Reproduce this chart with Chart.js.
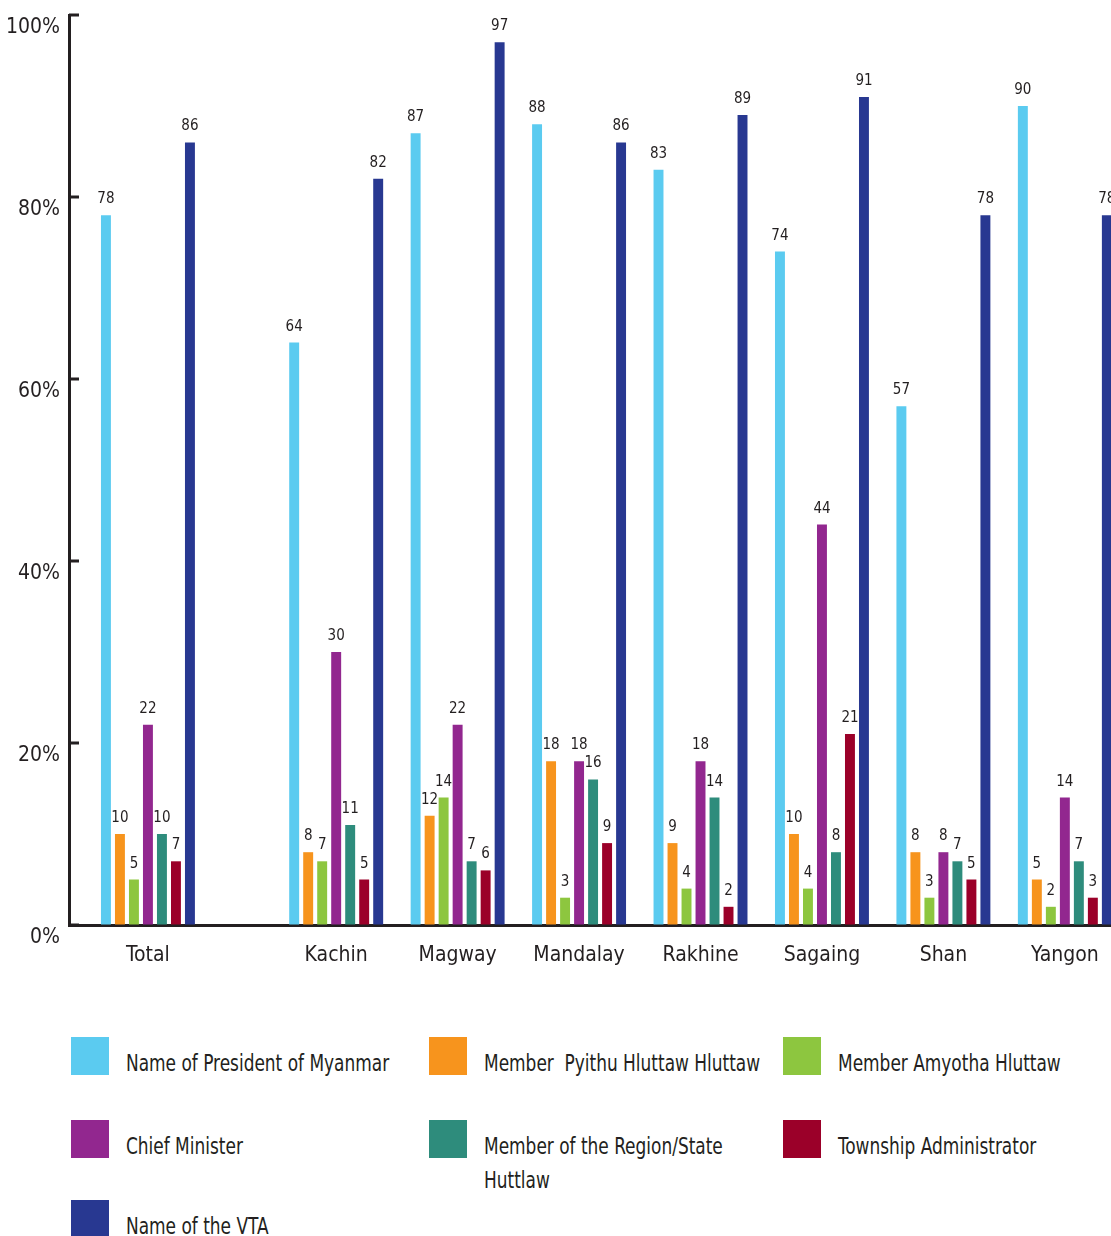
<!DOCTYPE html>
<html>
<head>
<meta charset="utf-8">
<script src="https://cdn.jsdelivr.net/npm/chart.js@4"></script>
<style>
  body { margin: 0; background: #fff; font-family: "DejaVu Sans Condensed", sans-serif; color: #231f20; }
  #wrap { position: absolute; left: 0; top: 0; width: 1111px; height: 985px; overflow: hidden; }
  #legend { position: absolute; left: 71px; top: 1037px; display: grid;
            grid-template-columns: 358px 354px 300px; grid-template-rows: 83px 80px 40px; }
  .item { display: flex; align-items: flex-start; }
  .box { width: 38px; height: 38px; flex: none; }
  .lbl { margin-left: 17px; margin-top: 9px; font-size: 23px; line-height: 34px; white-space: pre;
         transform: scaleX(0.82); transform-origin: 0 0; }
</style>
</head>
<body>
<div id="wrap"><canvas id="chart"></canvas></div>
<div id="legend"></div>
<script>
// regions (Total first, then a wider gap before the states/regions)
const regions = ['Total', 'Kachin', 'Magway', 'Mandalay', 'Rakhine', 'Sagaing', 'Shan', 'Yangon'];

const seriesNames = [
    'Name of President of Myanmar',
    'Member  Pyithu Hluttaw Hluttaw',
    'Member Amyotha Hluttaw',
    'Chief Minister',
    'Member of the Region/State\nHuttlaw',
    'Township Administrator',
    'Name of the VTA'
];

const president   = [78, 64, 87, 88, 83, 74, 57, 90];
const pyithu      = [10, 8, 12, 18, 9, 10, 8, 5];
const amyotha     = [5, 7, 14, 3, 4, 4, 3, 2];
const chiefMin    = [22, 30, 22, 18, 18, 44, 8, 14];
const regionState = [10, 11, 7, 16, 14, 8, 7, 7];
const township    = [7, 5, 6, 9, 2, 21, 5, 3];
const vta         = [86, 82, 97, 86, 89, 91, 78, 78];

const yTicks = [0, 20, 40, 60, 80, 100];

const colors = ['#5BCBF0', '#F7941D', '#8DC63F', '#92278F', '#2E8C7C', '#9B0029', '#283891'];
const ink = '#231f20';
const font = '"DejaVu Sans Condensed", sans-serif';

// layout: Total sits a bit apart from the rest
let totalGap = 0.55;
let xPos = regions.map((r, i) => i === 0 ? 0 : i + totalGap);

let allSeries = [president, pyithu, amyotha, chiefMin, regionState, township, vta];

let datasets = allSeries.map((vals, s) => ({
    label: seriesNames[s],
    data: vals.map((v, i) => ({ x: xPos[i], y: v })),
    backgroundColor: colors[s],
    borderWidth: 0,
    categoryPercentage: 0.807,
    barPercentage: 0.71
}));

// value labels above each bar
const valueLabels = {
    id: 'valueLabels',
    afterDatasetsDraw(chart) {
        let ctx = chart.ctx;
        ctx.save();
        ctx.font = '15px ' + font;
        ctx.fillStyle = ink;
        ctx.textAlign = 'center';
        ctx.textBaseline = 'alphabetic';
        chart.data.datasets.forEach((ds, i) => {
            chart.getDatasetMeta(i).data.forEach((bar, j) => {
                ctx.fillText(ds.data[j].y, bar.x, bar.y - 12);
            });
        });
        ctx.restore();
    }
};

// short tick marks pointing into the plot
const innerTicks = {
    id: 'innerTicks',
    afterDraw(chart) {
        let y = chart.scales.y;
        let ctx = chart.ctx;
        ctx.save();
        ctx.strokeStyle = ink;
        ctx.lineWidth = 3;
        y.ticks.forEach(t => {
            let py = y.getPixelForValue(t.value);
            ctx.beginPath();
            ctx.moveTo(chart.chartArea.left, py);
            ctx.lineTo(chart.chartArea.left + 10, py);
            ctx.stroke();
        });
        ctx.restore();
    }
};

const htmlLegend = {
    id: 'htmlLegend',
    afterUpdate(chart) {
        let box = document.getElementById('legend');
        box.innerHTML = '';
        chart.data.datasets.forEach(ds => {
            let item = document.createElement('div');
            item.className = 'item';
            let sw = document.createElement('div');
            sw.className = 'box';
            sw.style.background = ds.backgroundColor;
            let lbl = document.createElement('div');
            lbl.className = 'lbl';
            lbl.textContent = ds.label;
            item.appendChild(sw);
            item.appendChild(lbl);
            box.appendChild(item);
        });
    }
};

chart = new Chart(document.getElementById('chart'), {
    type: 'bar',
    data: { datasets: datasets },
    plugins: [valueLabels, innerTicks, htmlLegend],
    options: {
        responsive: true,
        maintainAspectRatio: false,
        animation: false,
        layout: { padding: { top: 15, right: 0, left: 0, bottom: 0 } },
        plugins: { legend: { display: false }, tooltip: { enabled: false } },
        scales: {
            x: {
                type: 'linear',
                offset: false,
                min: -0.65,
                max: xPos[xPos.length - 1] + 0.38,
                z: 1,
                grid: { display: true, drawOnChartArea: false, drawTicks: false, offset: false },
                border: { display: true, color: ink, width: 3 },
                afterBuildTicks: scale => { scale.ticks = xPos.map(v => ({ value: v })); },
                afterFit: scale => {
                    scale.height = 60;
                    scale.paddingLeft = 0;
                    scale.paddingRight = 0;
                },
                ticks: {
                    autoSkip: false,
                    maxRotation: 0,
                    padding: 18,
                    color: ink,
                    font: { family: font, size: 21 },
                    callback: value => regions[xPos.indexOf(value)]
                }
            },
            y: {
                min: 0,
                max: 100,
                grid: { drawOnChartArea: false, drawTicks: false },
                border: { display: true, color: ink, width: 3 },
                afterBuildTicks: scale => { scale.ticks = yTicks.map(v => ({ value: v })); },
                afterFit: scale => {
                    scale.width = 69;
                    scale.paddingTop = 0;
                    scale.paddingBottom = 0;
                },
                ticks: {
                    padding: 9,
                    labelOffset: 13,
                    color: ink,
                    font: { family: font, size: 21 },
                    callback: v => v + '%'
                }
            }
        }
    }
});
</script>
</body>
</html>
